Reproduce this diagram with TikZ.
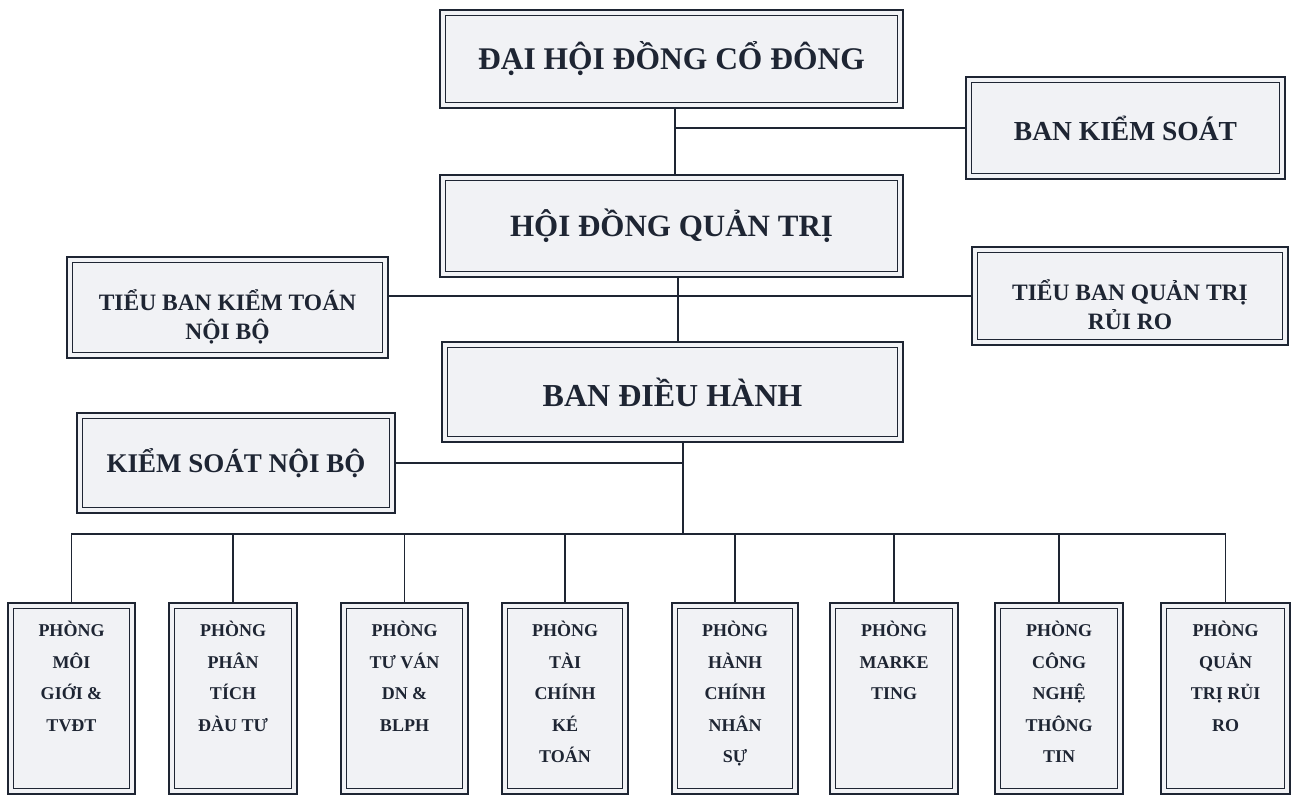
\documentclass[tikz,border=0pt]{standalone}
\usepackage{fontspec}
\setmainfont{Liberation Serif}
\usetikzlibrary{positioning}

\definecolor{muc}{HTML}{1E2533}
\definecolor{nen}{HTML}{F1F2F5}

\tikzset{
  khung/.style={draw=muc, line width=2.8pt, fill=nen, inner sep=0pt, outer sep=0pt,
    text=muc, font=\bfseries, align=center},
  vien/.style={draw=muc, line width=1.6pt},
  day/.style={draw=muc, line width=1.2pt},
}

% chu trong cac phong, can tren
\newcommand{\phong}[1]{\parbox[c][178pt][t]{120pt}{\centering
  \fontsize{18}{31.5}\selectfont\vspace*{12pt}#1}}
% day dong chu xuong mot chut
\newcommand{\ha}{\rule{0pt}{39pt}}

\begin{document}
\begin{tikzpicture}[x=1pt,y=-1pt]
\useasboundingbox (0,0) rectangle (1291,798);

% cap tren
\node[khung, minimum width=463, minimum height=98, font=\bfseries\fontsize{31.5}{36}\selectfont]
  (dhdcd) at (671.5,59) {ĐẠI HỘI ĐỒNG CỔ ĐÔNG};
\node[khung, minimum width=319, minimum height=102, font=\bfseries\fontsize{27.5}{32}\selectfont]
  (bks) at (1125.5,128) {BAN KIỂM SOÁT};
\node[khung, minimum width=463, minimum height=102, font=\bfseries\fontsize{31}{36}\selectfont]
  (hdqt) at (671.5,226) {HỘI ĐỒNG QUẢN TRỊ};
\node[khung, minimum width=321, minimum height=101, font=\bfseries\fontsize{23.5}{29}\selectfont]
  (tbkt) at (227.5,307.5) {\ha TIỂU BAN KIỂM TOÁN\\NỘI BỘ};
\node[khung, minimum width=316, minimum height=98, font=\bfseries\fontsize{23.5}{29}\selectfont]
  (tbqt) at (1130,296) {\ha TIỂU BAN QUẢN TRỊ\\RỦI RO};
\node[khung, minimum width=461, minimum height=100, font=\bfseries\fontsize{32}{36}\selectfont]
  (bdh) at (672.5,392) {BAN ĐIỀU HÀNH};
\node[khung, minimum width=318, minimum height=100, font=\bfseries\fontsize{27}{32}\selectfont]
  (ksnb) at (236,463) {KIỂM SOÁT NỘI BỘ};

% cac phong
\node[khung, minimum width=127, minimum height=191] (p1) at (71.5,698.5)
  {\phong{PHÒNG\\MÔI\\GIỚI \&\\TVĐT}};
\node[khung, minimum width=128, minimum height=191] (p2) at (233,698.5)
  {\phong{PHÒNG\\PHÂN\\TÍCH\\ĐÀU TƯ}};
\node[khung, minimum width=127, minimum height=191] (p3) at (404.5,698.5)
  {\phong{PHÒNG\\TƯ VÁN\\DN \&\\BLPH}};
\node[khung, minimum width=126, minimum height=191] (p4) at (565,698.5)
  {\phong{PHÒNG\\TÀI\\CHÍNH\\KÉ\\TOÁN}};
\node[khung, minimum width=126, minimum height=191] (p5) at (735,698.5)
  {\phong{PHÒNG\\HÀNH\\CHÍNH\\NHÂN\\SỰ}};
\node[khung, minimum width=128, minimum height=191] (p6) at (894,698.5)
  {\phong{PHÒNG\\MARKE\\TING}};
\node[khung, minimum width=128, minimum height=191] (p7) at (1059,698.5)
  {\phong{PHÒNG\\CÔNG\\NGHỆ\\THÔNG\\TIN}};
\node[khung, minimum width=129, minimum height=191] (p8) at (1225.5,698.5)
  {\phong{PHÒNG\\QUẢN\\TRỊ RỦI\\RO}};

% vien trong
\foreach \n in {dhdcd,bks,hdqt,tbkt,tbqt,bdh,ksnb,p1,p2,p3,p4,p5,p6,p7,p8}
  \draw[vien] ([shift={(5.5,5.5)}]\n.north west) rectangle ([shift={(-5.5,-5.5)}]\n.south east);

% duong noi
\draw[day] ([xshift=3.5]dhdcd.south) -- ([xshift=3.5]hdqt.north);
\draw[day] ([xshift=3.5]dhdcd.south |- bks.west) -- (bks.west);
\draw[day] ([xshift=6.5]hdqt.south) -- ([xshift=5.5]bdh.north);
\draw[day] (tbkt.east |- tbqt.west) -- (tbqt.west);
\draw[day] ([xshift=10.5]bdh.south) -- ++(0,92) coordinate (nga);
\draw[day] (ksnb.east) -- (ksnb.east -| nga);
\draw[day] (p1.north) |- (nga) -| (p8.north);
\foreach \i in {2,...,7}
  \draw[day] (p\i.north) -- (p\i.north |- nga);
\end{tikzpicture}
\end{document}
